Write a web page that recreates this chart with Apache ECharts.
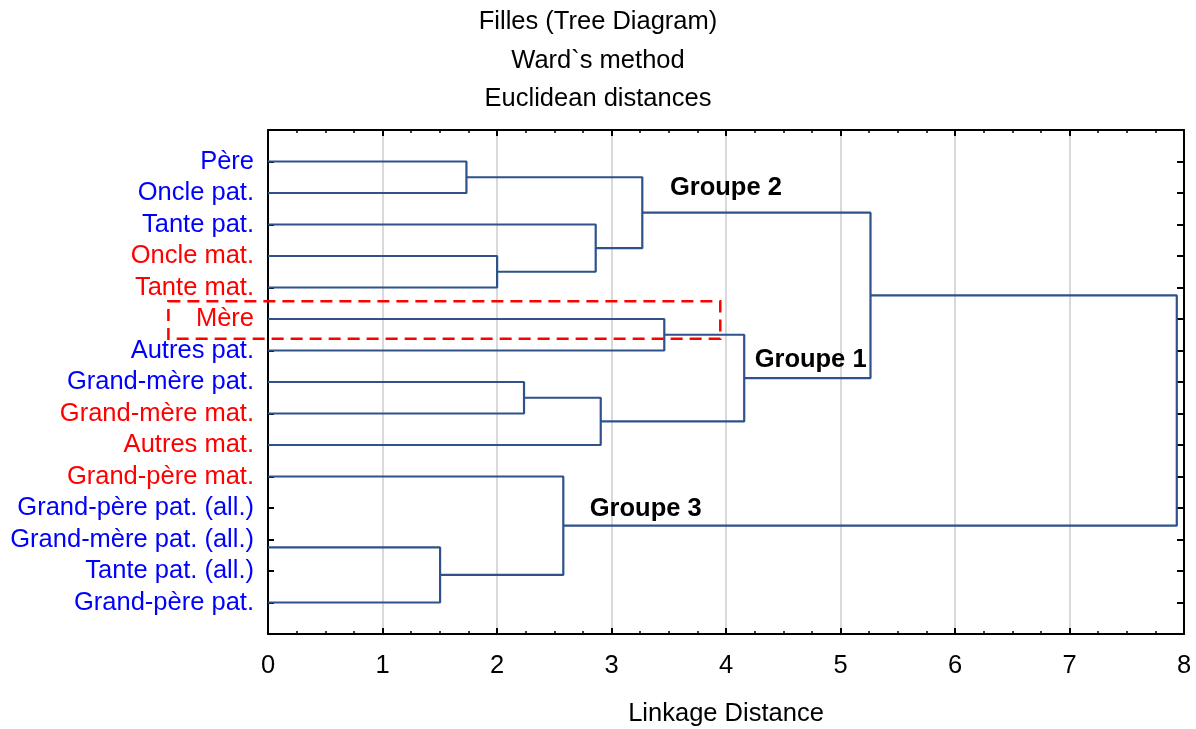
<!DOCTYPE html>
<html>
<head>
<meta charset="utf-8">
<script src="https://cdn.jsdelivr.net/npm/echarts@6/dist/echarts.min.js"></script>
<style>html,body{margin:0;padding:0;background:#fff;}#c{width:1196px;height:729px;}</style>
</head>
<body>
<div id="c"></div>
<script>
// Leaves (top to bottom)
const leaves = ['Père','Oncle pat.','Tante pat.','Oncle mat.','Tante mat.','Mère','Autres pat.',
  'Grand-mère pat.','Grand-mère mat.','Autres mat.','Grand-père mat.','Grand-père pat. (all.)',
  'Grand-mère pat. (all.)','Tante pat. (all.)','Grand-père pat.'];
// b = paternal side (blue), r = maternal side (red)
const leafSide = ['b','b','b','r','r','r','b','b','r','r','r','b','b','b','b'];
// Merges: node ids 15.. are created in this order
const mergeLeft   = [0, 3, 2, 15, 5, 7, 20, 19, 18, 11, 24, 25, 10, 23];
const mergeRight  = [1, 4, 16, 17, 6, 8, 9, 21, 22, 12, 13, 14, 26, 27];
const mergeHeight = [1.733, 2.001, 2.862, 3.269, 3.461, 2.236, 2.906, 4.159, 5.262, 0, 0, 1.503, 2.579, 7.937];
const xTicks = [0,1,2,3,4,5,6,7,8];
// Annotations (data coordinates)
const groupLabels = ['Groupe 2','Groupe 1','Groupe 3'];
const groupX = [3.51, 4.25, 2.81];
const groupY = [0.83, 6.29, 11.03];

const LINE = '#2e5289';
const FONT = 'Liberation Sans, Arial, sans-serif';
const FS = 25.5;

// compute node positions
const nodeY = leaves.map((_, i) => i);
const nodeH = leaves.map(() => 0);
const series = [];
for (let k = 0; k < mergeLeft.length; k++) {
  const a = mergeLeft[k], b = mergeRight[k], h = mergeHeight[k];
  const ya = nodeY[a], yb = nodeY[b];
  nodeY.push((ya + yb) / 2);
  nodeH.push(h);
  if (h > 0) {
    series.push({
      type: 'line', showSymbol: false, symbol: 'none', silent: true, animation: false,
      lineStyle: { color: LINE, width: 2.2 },
      data: [[nodeH[a], ya], [h, ya], [h, yb], [nodeH[b], yb]]
    });
  }
}

const chart = echarts.init(document.getElementById('c'));
const axisCommon = {
  type: 'value', min: 0, max: 8, interval: 1,
  axisLine: { show: true, onZero: false, lineStyle: { color: '#000', width: 2 } },
  axisTick: { show: true, inside: true, length: 6, lineStyle: { color: '#000', width: 2 } },
  minorTick: { show: true, splitNumber: 4, length: 3, lineStyle: { color: '#000', width: 1.5 } },
};
chart.setOption({
  animation: false,
  title: {
    text: 'Filles (Tree Diagram)\nWard`s method\nEuclidean distances',
    left: 'center', top: 3, padding: 0,
    textStyle: { fontFamily: FONT, fontSize: FS, fontWeight: 'normal', color: '#000', lineHeight: 38.5 }
  },
  grid: { left: 268, right: 12, top: 130, bottom: 95, containLabel: false, outerBoundsMode: 'none' },
  xAxis: [
    Object.assign({}, axisCommon, {
      position: 'bottom',
      name: 'Linkage Distance', nameLocation: 'middle', nameGap: 67,
      nameTextStyle: { fontFamily: FONT, fontSize: FS, color: '#000' },
      axisLabel: { fontFamily: FONT, fontSize: FS, color: '#000', margin: 19,
        formatter: v => xTicks.indexOf(v) >= 0 ? String(v) : '' },
      splitLine: { show: true, lineStyle: { color: '#d9d9d9', width: 2 } }
    }),
    Object.assign({}, axisCommon, {
      position: 'top', axisLabel: { show: false }, splitLine: { show: false }
    })
  ],
  yAxis: [
    {
      type: 'value', min: -1, max: 15, interval: 1, inverse: true, position: 'left',
      axisLine: { show: true, onZero: false, lineStyle: { color: '#000', width: 2 } },
      axisTick: { show: true, inside: true, length: 6, lineStyle: { color: '#000', width: 2 } },
      splitLine: { show: false },
      axisLabel: {
        margin: 14, fontFamily: FONT, fontSize: FS,
        formatter: v => (v >= 0 && v < leaves.length) ? '{' + leafSide[v] + '|' + leaves[v] + '}' : '',
        rich: {
          b: { color: '#0000ff', fontFamily: FONT, fontSize: FS },
          r: { color: '#ff0000', fontFamily: FONT, fontSize: FS }
        }
      }
    },
    {
      type: 'value', min: -1, max: 15, interval: 1, inverse: true, position: 'right',
      axisLine: { show: true, onZero: false, lineStyle: { color: '#000', width: 2 } },
      axisTick: { show: true, inside: true, length: 7, lineStyle: { color: '#000', width: 2 } },
      splitLine: { show: false }, axisLabel: { show: false }
    }
  ],
  series: series
});

function px(x, y) { return chart.convertToPixel({ xAxisIndex: 0, yAxisIndex: 0 }, [x, y]); }
const elements = groupLabels.map((t, i) => {
  const p = px(groupX[i], groupY[i]);
  return { type: 'text', x: p[0], y: p[1], z: 100,
    style: { text: t, fill: '#000', font: 'bold ' + FS + 'px ' + FONT, textVerticalAlign: 'middle', textAlign: 'left' } };
});
// dashed highlight box around "Mère"
const r1 = px(-0.87, 4.44), r2 = px(3.95, 5.63);
elements.push({ type: 'rect', z: 100, shape: { x: r1[0], y: r1[1], width: r2[0] - r1[0], height: r2[1] - r1[1] },
  style: { fill: 'none', stroke: '#ff0000', lineWidth: 2.5, lineDash: [12, 7] } });
chart.setOption({ graphic: elements });
</script>
</body>
</html>
